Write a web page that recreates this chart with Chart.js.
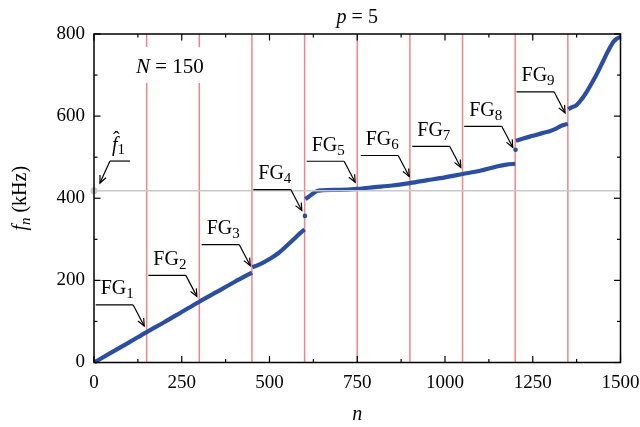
<!DOCTYPE html>
<html lang="en">
  <head>
    <meta charset="UTF-8" />
    <title>p = 5</title>
    <style>
      html, body { margin: 0; padding: 0; background: #fff; }
    </style>
  </head>
  <body>
    <canvas id="chart" width="640" height="427"></canvas>

    <script src="https://cdn.jsdelivr.net/npm/chart.js@4.4.0/dist/chart.umd.min.js"></script>
    <script>
      // ticks
      const xTicks = [0, 250, 500, 750, 1000, 1250, 1500];
      const yTicks = [0, 200, 400, 600, 800];

      // group borders (red lines) and the reference frequency f^1
      const groupEdges = [150, 300, 450, 600, 750, 900, 1050, 1200, 1350];
      const fHat1 = 418;

      // f_n (kHz), one pair of arrays per continuous piece
      const segA_n = [1, 50, 100, 150, 200, 250, 300, 350, 400, 450];
      const segA_f = [0.5, 24.5, 49, 74, 98, 123, 148, 172, 196, 219];

      const segB_n = [451, 475, 500, 525, 550, 575, 590, 600];
      const segB_f = [232, 240, 252, 266, 285, 305, 317, 324];

      const segC_n = [602, 611, 625, 636, 650, 700, 750, 800, 850, 900, 950, 1000, 1050, 1100, 1150, 1175, 1200];
      const segC_f = [398, 403, 412, 418, 419.5, 420.5, 423, 427, 431, 437, 444, 451, 459, 467, 478, 482, 484];

      const segD_n = [1202, 1225, 1250, 1275, 1300, 1315, 1330, 1345, 1350];
      const segD_f = [540, 546, 552, 558, 564, 569, 576, 580, 581];

      const segE_n = [1351, 1360, 1375, 1390, 1405, 1420, 1435, 1450, 1465, 1480, 1490, 1500];
      const segE_f = [617, 621, 627, 642, 661, 683, 707, 733, 759, 781, 789, 793];

      // isolated points at the jumps
      const jump_n = [601, 1201];
      const jump_f = [357, 518];

      // arrow labels FG_k, tips given in data units
      const fgNames = ["1", "2", "3", "4", "5", "6", "7", "8", "9"];
      const fgTips = [
        [143, 89], [293, 161], [445, 236], [592, 370], [744, 439],
        [898, 453], [1045, 475], [1193, 524], [1342, 608],
      ];

      const serif = '"Liberation Serif", "Times New Roman", serif';
      const blue = "#2b4ea2";

      const pts = (n, f) => n.map((v, i) => ({ x: v, y: f[i] }));

      function rich(ctx, x, y, parts, align) {
        // parts: [text, size, italic, dy]
        let w = 0;
        parts.forEach((p) => {
          ctx.font = (p[2] ? "italic " : "") + p[1] + "px " + serif;
          w += ctx.measureText(p[0]).width;
        });
        let cx = align === "center" ? x - w / 2 : x;
        parts.forEach((p) => {
          ctx.font = (p[2] ? "italic " : "") + p[1] + "px " + serif;
          ctx.fillText(p[0], cx, y + (p[3] || 0));
          cx += ctx.measureText(p[0]).width;
        });
      }

      function seg(ctx, x1, y1, x2, y2) {
        ctx.beginPath();
        ctx.moveTo(x1, y1);
        ctx.lineTo(x2, y2);
        ctx.stroke();
      }

      function arrowHead(ctx, fx, fy, tx, ty) {
        const ang = Math.atan2(ty - fy, tx - fx);
        const len = 8, spread = 0.42;
        ctx.beginPath();
        ctx.moveTo(tx - len * Math.cos(ang - spread), ty - len * Math.sin(ang - spread));
        ctx.lineTo(tx, ty);
        ctx.lineTo(tx - len * Math.cos(ang + spread), ty - len * Math.sin(ang + spread));
        ctx.stroke();
      }

      const decor = {
        id: "decor",
        beforeDatasetsDraw(chart) {
          const { ctx, chartArea: a, scales } = chart;
          ctx.save();
          ctx.strokeStyle = "#f08486";
          ctx.lineWidth = 1.5;
          groupEdges.forEach((n) => {
            const px = scales.x.getPixelForValue(n);
            seg(ctx, px, a.top, px, a.bottom);
          });
          ctx.restore();
        },
        afterDatasetsDraw(chart) {
          const { ctx, chartArea: a, scales } = chart;
          const X = (v) => scales.x.getPixelForValue(v);
          const Y = (v) => scales.y.getPixelForValue(v);
          ctx.save();
          ctx.fillStyle = "#000";
          ctx.strokeStyle = "#000";
          ctx.lineWidth = 1.2;
          ctx.textBaseline = "alphabetic";

          // FG_k arrows
          fgTips.forEach((t, i) => {
            const tx = X(t[0]), ty = Y(t[1]);
            const bx = tx - 11, by = ty - 21;
            const lx = bx - 37.5;
            seg(ctx, lx, by, bx, by);
            seg(ctx, bx, by, tx, ty);
            arrowHead(ctx, bx, by, tx, ty);
            rich(ctx, lx + 5, by - 10.5, [["FG", 20, false], [fgNames[i], 15, false, 4]]);
          });

          // f^1 arrow
          const hx = X(17), hy = Y(437);
          seg(ctx, hx + 10, hy - 22, hx + 30, hy - 22);
          seg(ctx, hx + 10, hy - 22, hx, hy);
          arrowHead(ctx, hx + 10, hy - 22, hx, hy);
          rich(ctx, hx + 12, hy - 32, [["f", 20, true], ["1", 15, false, 3]]);
          ctx.font = "20px " + serif;
          ctx.fillText("\u02C6", hx + 13, hy - 37);

          // N = 150 on a white patch
          ctx.fillStyle = "#fff";
          ctx.fillRect(133, 47, 80, 36);
          ctx.fillStyle = "#000";
          rich(ctx, 136, 73, [["N", 21, true], [" = 150", 21, false]]);

          // frame with inward ticks on all four sides
          ctx.lineWidth = 1.5;
          ctx.strokeRect(a.left, a.top, a.right - a.left, a.bottom - a.top);
          ctx.lineWidth = 1.2;
          for (let i = 0; i < xTicks.length; i++) {
            const px = X(xTicks[i]);
            seg(ctx, px, a.bottom, px, a.bottom - 6.5);
            seg(ctx, px, a.top, px, a.top + 6.5);
            if (i < xTicks.length - 1) {
              const mx = X((xTicks[i] + xTicks[i + 1]) / 2);
              seg(ctx, mx, a.bottom, mx, a.bottom - 3.5);
              seg(ctx, mx, a.top, mx, a.top + 3.5);
            }
          }
          for (let i = 0; i < yTicks.length; i++) {
            const py = Y(yTicks[i]);
            seg(ctx, a.left, py, a.left + 6.5, py);
            seg(ctx, a.right, py, a.right - 6.5, py);
            if (i < yTicks.length - 1) {
              const my = Y((yTicks[i] + yTicks[i + 1]) / 2);
              seg(ctx, a.left, my, a.left + 3.5, my);
              seg(ctx, a.right, my, a.right - 3.5, my);
            }
          }

          // titles
          const cx = (a.left + a.right) / 2;
          rich(ctx, cx, 23, [["p", 20, true], [" = 5", 20, false]], "center");
          rich(ctx, cx, 420, [["n", 20, true]], "center");
          ctx.translate(20, (a.top + a.bottom) / 2);
          ctx.rotate(-Math.PI / 2);
          rich(ctx, 0, 6, [["f", 20, true], ["n", 15, true, 4], [" (kHz)", 20, false]], "center");
          ctx.restore();
        },
      };

      const lineSet = (n, f) => ({
        data: pts(n, f),
        borderColor: blue,
        borderWidth: 4.2,
        pointRadius: 0,
        showLine: true,
        cubicInterpolationMode: "monotone",
        clip: 6,
      });

      new Chart(document.getElementById("chart"), {
        type: "scatter",
        data: {
          datasets: [
            {
              data: [{ x: 0, y: fHat1 }, { x: 1500, y: fHat1 }],
              borderColor: "#c8c8c8",
              backgroundColor: "#c8c8c8",
              borderWidth: 1.5,
              showLine: true,
              pointRadius: [3.5, 0],
              pointBorderWidth: 0,
              clip: 6,
            },
            lineSet(segA_n, segA_f),
            lineSet(segB_n, segB_f),
            lineSet(segC_n, segC_f),
            lineSet(segD_n, segD_f),
            lineSet(segE_n, segE_f),
            {
              data: pts(jump_n, jump_f),
              backgroundColor: blue,
              borderWidth: 0,
              pointRadius: 2.3,
              clip: 6,
            },
          ],
        },
        options: {
          responsive: false,
          animation: false,
          layout: { padding: { top: 34, right: 19.5, left: 0, bottom: 0 } },
          plugins: {
            legend: { display: false },
            tooltip: { enabled: false },
          },
          scales: {
            x: {
              type: "linear",
              min: 0,
              max: 1500,
              afterBuildTicks: (s) => { s.ticks = xTicks.map((v) => ({ value: v })); },
              afterFit: (s) => { s.height = 64.5; s.paddingLeft = 0; s.paddingRight = 0; },
              ticks: {
                color: "#000",
                padding: 9,
                font: { family: serif, size: 19 },
                callback: (v) => String(v),
              },
              grid: { display: false, drawTicks: false },
              border: { display: false },
            },
            y: {
              min: 0,
              max: 800,
              afterBuildTicks: (s) => { s.ticks = yTicks.map((v) => ({ value: v })); },
              afterFit: (s) => { s.width = 94; s.paddingTop = 0; s.paddingBottom = 0; },
              ticks: {
                color: "#000",
                padding: 9,
                font: { family: serif, size: 19 },
                callback: (v) => String(v),
              },
              grid: { display: false, drawTicks: false },
              border: { display: false },
            },
          },
        },
        plugins: [decor],
      });
    </script>
  </body>
</html>
